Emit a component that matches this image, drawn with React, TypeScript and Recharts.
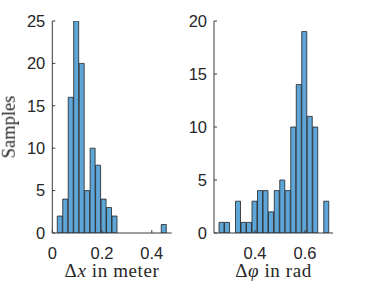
import { BarChart, Bar, XAxis, YAxis, Label } from 'recharts'

// Δx histogram (left)
const dxBins = [0.031, 0.053, 0.075, 0.097, 0.119, 0.141, 0.163, 0.185, 0.207, 0.229, 0.251, 0.273, 0.295, 0.317, 0.339, 0.361, 0.383, 0.405, 0.427, 0.449]
const dxCounts = [2, 4, 16, 25, 20, 5, 10, 8, 4, 3, 2, 0, 0, 0, 0, 0, 0, 0, 0, 1]
const dxTicks = [0, 0.2, 0.4]
const dxCountTicks = [0, 5, 10, 15, 20, 25]

// Δφ histogram (right)
const dphiBins = [0.267, 0.289, 0.311, 0.333, 0.355, 0.377, 0.399, 0.421, 0.443, 0.465, 0.488, 0.51, 0.532, 0.554, 0.576, 0.598, 0.62, 0.642, 0.664, 0.686]
const dphiCounts = [1, 1, 0, 3, 1, 1, 3, 4, 4, 2, 4, 5, 4, 10, 14, 19, 11, 10, 0, 3]
const dphiTicks = [0.4, 0.6]
const dphiCountTicks = [0, 5, 10, 15, 20]

const FACE = '#5ea5d8'
const EDGE = '#222222'
const AXIS = '#3a3a3a'
const TEXT = '#262626'

const tickStyle = { fontFamily: '"Liberation Sans", Arial, sans-serif', fontSize: 16.5, fill: TEXT }
const serif = '"Liberation Serif", "Times New Roman", serif'

interface HistProps {
  bins: number[]
  counts: number[]
  xDomain: [number, number]
  xTicks: number[]
  yMax: number
  yTicks: number[]
  left: number
  yAxisWidth: number
  rightMargin: number
  xLabel: (string | { italic: string })[]
}

function Histogram({ bins, counts, xDomain, xTicks, yMax, yTicks, left, yAxisWidth, rightMargin, xLabel }: HistProps) {
  const data = bins.map((b, i) => ({ bin: b, count: counts[i] }))

  const renderXLabel = (props: any) => {
    const vb = props.viewBox || {}
    return (
      <text
        x={vb.x + vb.width / 2}
        y={vb.y + 44}
        textAnchor="middle"
        style={{ fontFamily: serif, fontSize: 19, fill: TEXT, letterSpacing: 0.6 }}
      >
        {xLabel.map((p, i) =>
          typeof p === 'string'
            ? <tspan key={i}>{p}</tspan>
            : <tspan key={i} fontStyle="italic">{p.italic}</tspan>
        )}
      </text>
    )
  }

  return (
    <div style={{ position: 'absolute', left, top: 0 }}>
      <BarChart
        width={185}
        height={285}
        data={data}
        margin={{ top: 21, right: rightMargin, bottom: 0, left: 0 }}
        barCategoryGap={0}
        barGap={0}
      >
        <XAxis
          dataKey="bin"
          type="number"
          domain={xDomain}
          ticks={xTicks}
          allowDataOverflow
          height={52}
          stroke={AXIS}
          tickSize={-3}
          tickMargin={17}
          tick={tickStyle}
          tickFormatter={(v: number) => String(v)}
          label={<Label content={renderXLabel} />}
        />
        <XAxis
          xAxisId="top"
          orientation="top"
          type="number"
          domain={xDomain}
          ticks={xTicks}
          allowDataOverflow
          height={0}
          stroke={AXIS}
          tickSize={-3}
          tick={false}
        />
        <YAxis
          type="number"
          domain={[0, yMax]}
          ticks={yTicks}
          allowDataOverflow
          width={yAxisWidth}
          stroke={AXIS}
          tickSize={-3}
          tickMargin={10}
          tick={tickStyle}
        />
        <YAxis
          yAxisId="right"
          orientation="right"
          type="number"
          domain={[0, yMax]}
          ticks={yTicks}
          allowDataOverflow
          width={0}
          stroke={AXIS}
          tickSize={-3}
          tick={false}
        />
        <Bar dataKey="count" fill={FACE} stroke={EDGE} strokeWidth={0.8} isAnimationActive={false} />
      </BarChart>
    </div>
  )
}

export default function App() {
  return (
    <div style={{ position: 'fixed', left: 0, top: 0, width: 370, height: 285, background: '#fff' }}>
      <Histogram
        bins={dxBins}
        counts={dxCounts}
        xDomain={[0, 0.48]}
        xTicks={dxTicks}
        yMax={25}
        yTicks={dxCountTicks}
        left={0}
        yAxisWidth={52.3}
        rightMargin={13.3}
        xLabel={['Δ', { italic: 'x' }, ' in meter']}
      />
      <Histogram
        bins={dphiBins}
        counts={dphiCounts}
        xDomain={[0.236, 0.712]}
        xTicks={dphiTicks}
        yMax={20}
        yTicks={dphiCountTicks}
        left={185}
        yAxisWidth={29}
        rightMargin={37}
        xLabel={['Δ', { italic: 'φ' }, ' in rad']}
      />
      <div
        style={{
          position: 'absolute',
          left: 9,
          top: 127,
          transform: 'translate(-50%, -50%) rotate(-90deg)',
          fontFamily: serif,
          fontSize: 18.5,
          lineHeight: 1,
          color: TEXT,
          whiteSpace: 'nowrap',
        }}
      >
        Samples
      </div>
    </div>
  )
}
